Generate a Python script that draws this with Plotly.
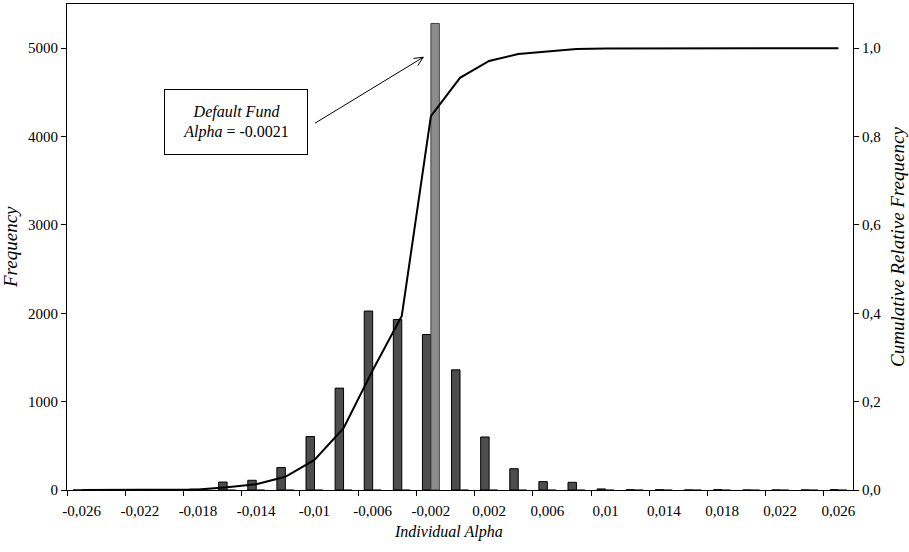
import plotly.graph_objects as go

# Category labels (individual alpha bins)
alpha_bins = ["-0,026", "-0,024", "-0,022", "-0,02", "-0,018", "-0,016", "-0,014",
              "-0,012", "-0,01", "-0,008", "-0,006", "-0,004", "-0,002", "0",
              "0,002", "0,004", "0,006", "0,008", "0,01", "0,012", "0,014",
              "0,016", "0,018", "0,02", "0,022", "0,024", "0,026"]

# Frequency of individual alphas (dark bars)
freq_individual = [0, 0, 0, 0, 10, 90, 110, 254, 605, 1153, 2025, 1930, 1760, 1360,
                   600, 241, 95, 87, 12, 3, 3, 0, 3, 0, 0, 0, 3]

# Frequency of the default fund (grey bar)
freq_default = [0, 0, 0, 0, 0, 0, 0, 0, 0, 0, 0, 0, 5280, 0,
                0, 0, 0, 0, 0, 0, 0, 0, 0, 0, 0, 0, 0]

# Cumulative relative frequency
cum_rel_freq = [0.0, 0.0, 0.0, 0.0, 0.001, 0.006, 0.013, 0.030, 0.068, 0.140, 0.271,
                0.394, 0.846, 0.933, 0.971, 0.987, 0.993, 0.998, 0.999, 0.999, 0.999,
                0.999, 1.0, 1.0, 1.0, 1.0, 1.0]

FONT = "Liberation Serif"

fig = go.Figure()
fig.add_trace(go.Bar(x=alpha_bins, y=freq_individual, name="Individual",
                     marker=dict(color="#4d4d4d", line=dict(color="#000000", width=1)),
                     yaxis="y"))
fig.add_trace(go.Bar(x=alpha_bins, y=freq_default, name="Default Fund",
                     marker=dict(color="#8c8c8c", line=dict(color="#404040", width=1)),
                     yaxis="y"))
fig.add_trace(go.Scatter(x=alpha_bins, y=cum_rel_freq, mode="lines",
                         line=dict(color="#000000", width=2), yaxis="y2",
                         name="Cumulative"))

tick_font = dict(family=FONT, size=15, color="#000000")

fig.update_layout(
    width=909, height=552,
    margin=dict(l=67, r=56, t=4, b=62),
    paper_bgcolor="white", plot_bgcolor="white",
    showlegend=False,
    barmode="group", bargap=0.42, bargroupgap=0,
    separators=",.",
    font=dict(family=FONT, size=15, color="#000000"),
    xaxis=dict(type="category", categoryorder="array", categoryarray=alpha_bins,
               range=[-0.5, 26.5], dtick=2, tick0=0, tickson="boundaries",
               tickangle=0, ticklabelstandoff=7,
               ticks="outside", ticklen=5, tickcolor="#000", tickwidth=1,
               showline=True, linecolor="#000", linewidth=1, mirror=True,
               showgrid=False, zeroline=False, tickfont=tick_font),
    yaxis=dict(range=[0, 5500], dtick=1000, tickformat="d",
               ticks="outside", ticklen=5, tickcolor="#000", tickwidth=1,
               showline=True, linecolor="#000", linewidth=1,
               showgrid=False, zeroline=False, tickfont=tick_font),
    yaxis2=dict(range=[0, 1.1], dtick=0.2, tickformat=".1f", overlaying="y", side="right",
                anchor="x", ticks="outside", ticklen=5, tickcolor="#000", tickwidth=1,
                showline=True, linecolor="#000", linewidth=1,
                showgrid=False, zeroline=False, tickfont=tick_font),
    # overlay axes giving the inner half of the crossing tick marks
    xaxis2=dict(overlaying="x", anchor="y", side="bottom", type="linear",
                range=[-0.5, 26.5], tickvals=[-0.5 + 2 * k for k in range(14)],
                ticks="inside", ticklen=5, tickcolor="#000", tickwidth=1,
                showticklabels=False, showline=False, showgrid=False, zeroline=False),
    yaxis3=dict(overlaying="y", anchor="x", side="left", range=[0, 5500], dtick=1000,
                ticks="inside", ticklen=5, tickcolor="#000", tickwidth=1,
                showticklabels=False, showline=False, showgrid=False, zeroline=False),
    yaxis4=dict(overlaying="y", anchor="x", side="right", range=[0, 1.1], dtick=0.2,
                ticks="inside", ticklen=5, tickcolor="#000", tickwidth=1,
                showticklabels=False, showline=False, showgrid=False, zeroline=False),
)

# Axis titles
fig.add_annotation(text="<i>Frequency</i>", xref="paper", yref="paper",
                   x=-0.0725, y=0.5, textangle=-90, showarrow=False,
                   xanchor="center", yanchor="middle",
                   font=dict(family=FONT, size=19))
fig.add_annotation(text="<i>Cumulative Relative Frequency</i>", xref="paper", yref="paper",
                   x=1.056, y=0.5, textangle=-90, showarrow=False,
                   xanchor="center", yanchor="middle",
                   font=dict(family=FONT, size=19))
fig.add_annotation(text="<i>Individual Alpha</i>", xref="paper", yref="paper",
                   x=0.486, y=-0.0858, showarrow=False,
                   xanchor="center", yanchor="middle",
                   font=dict(family=FONT, size=16))

# Callout box
fig.add_annotation(text="<i>Default Fund</i><br><i>Alpha</i> = -0.0021",
                   xref="paper", yref="paper", x=0.215, y=0.757,
                   xanchor="center", yanchor="middle",
                   showarrow=False, width=140, height=62, align="center",
                   bordercolor="#000", borderwidth=1, bgcolor="white",
                   font=dict(family=FONT, size=16))

# Arrow (open arrowhead)
tail = (0.3155, 0.7547)
tip = (0.4533, 0.8904)
arm1 = (0.4407, 0.8881)
arm2 = (0.4463, 0.8733)
fig.add_shape(type="path", xref="paper", yref="paper",
              path=f"M {tail[0]} {tail[1]} L {tip[0]} {tip[1]} M {arm1[0]} {arm1[1]} L {tip[0]} {tip[1]} L {arm2[0]} {arm2[1]}",
              line=dict(color="#000", width=1))

fig.write_html("out.html")
